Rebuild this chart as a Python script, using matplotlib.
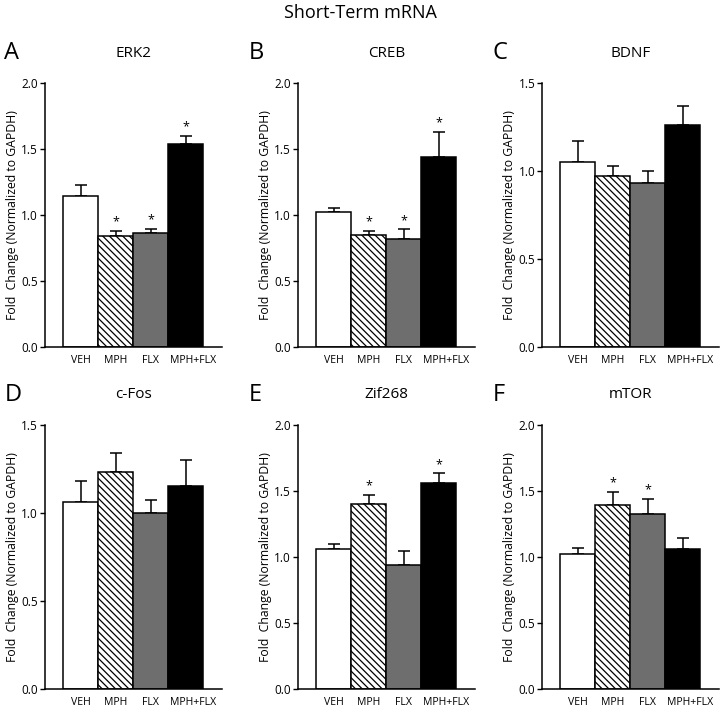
import matplotlib
matplotlib.use('Agg')
from matplotlib import pyplot as plt
from matplotlib import transforms

plt.rcParams['font.family'] = ['Open Sans', 'DejaVu Sans']
plt.rcParams['hatch.linewidth'] = 0.9

groups = ['VEH', 'MPH', 'FLX', 'MPH+FLX']
genes = ['ERK2', 'CREB', 'BDNF', 'c-Fos', 'Zif268', 'mTOR']
letters = ['A', 'B', 'C', 'D', 'E', 'F']

erk2_mean = [1.14, 0.84, 0.865, 1.54]
erk2_err = [0.09, 0.04, 0.03, 0.06]
creb_mean = [1.02, 0.85, 0.82, 1.44]
creb_err = [0.03, 0.03, 0.07, 0.19]
bdnf_mean = [1.05, 0.97, 0.93, 1.26]
bdnf_err = [0.12, 0.06, 0.07, 0.11]
cfos_mean = [1.06, 1.23, 1.00, 1.15]
cfos_err = [0.12, 0.11, 0.07, 0.15]
zif_mean = [1.06, 1.40, 0.94, 1.56]
zif_err = [0.04, 0.07, 0.10, 0.07]
mtor_mean = [1.02, 1.39, 1.32, 1.06]
mtor_err = [0.05, 0.10, 0.12, 0.08]

erk2_sig = [False, True, True, True]
creb_sig = [False, True, True, True]
bdnf_sig = [False, False, False, False]
cfos_sig = [False, False, False, False]
zif_sig = [False, True, False, True]
mtor_sig = [False, True, True, False]

y_max = [2.0, 2.0, 1.5, 1.5, 2.0, 2.0]

means = [erk2_mean, creb_mean, bdnf_mean, cfos_mean, zif_mean, mtor_mean]
errs = [erk2_err, creb_err, bdnf_err, cfos_err, zif_err, mtor_err]
sigs = [erk2_sig, creb_sig, bdnf_sig, cfos_sig, zif_sig, mtor_sig]

face = ['white', 'white', '#6e6e6e', 'black']
hatches = [None, '\\\\\\\\\\', None, None]

fig = plt.figure(figsize=(7.2, 7.07), dpi=100)
fig.text(0.5, 0.981, 'Short-Term mRNA', ha='center', va='center', fontsize=13)

lefts = [0.0625, 0.414, 0.753]
letter_x = [0.006, 0.346, 0.684]
bottoms = [0.509, 0.0255]
w = 0.246
h = 0.374

for i in range(6):
    row = i // 3
    col = i % 3
    ax = fig.add_axes([lefts[col], bottoms[row], w, h])
    x = range(len(groups))
    for j in x:
        ax.bar(j, means[i][j], width=1.0, color=face[j], edgecolor='black',
               linewidth=1.1, hatch=hatches[j], zorder=2)
        ax.errorbar(j, means[i][j], yerr=[[0], [errs[i][j]]], fmt='none',
                    ecolor='black', elinewidth=1.1, capsize=4.5, capthick=1.1, zorder=1)
        if sigs[i][j]:
            ax.text(j, means[i][j] + errs[i][j] + y_max[i] * 0.01, '*',
                    ha='center', va='bottom', fontsize=9)
    ax.set_xlim(-1.02, 4.04)
    ax.set_ylim(0, y_max[i])
    ax.set_yticks([k * 0.5 for k in range(int(y_max[i] / 0.5) + 1)])
    ax.set_yticklabels(['%.1f' % (k * 0.5) for k in range(int(y_max[i] / 0.5) + 1)])
    ax.set_xticks(list(x))
    ax.set_xticklabels(groups)
    ax.tick_params(axis='x', length=0, labelsize=7.6, pad=6)
    ax.tick_params(axis='y', length=3.5, width=1, labelsize=8.5, pad=1.5)
    # the last label sits a little right of its bar in the original
    lab = ax.get_xticklabels()[-1]
    lab.set_transform(lab.get_transform() + transforms.ScaledTranslation(0.07, 0, fig.dpi_scale_trans))
    ax.spines['top'].set_visible(False)
    ax.spines['right'].set_visible(False)
    ax.spines['left'].set_linewidth(1.1)
    ax.spines['bottom'].set_linewidth(1.1)
    ax.set_ylabel('Fold  Change (Normalized to GAPDH)', fontsize=8.8)
    ax.yaxis.set_label_coords(-0.145, 0.5)

    cx = lefts[col] + w / 2
    ty = bottoms[row] + h + 0.042
    fig.text(cx, ty, genes[i], ha='center', va='center', fontsize=11)
    fig.text(letter_x[col], ty, letters[i], ha='left', va='center', fontsize=17)

fig.savefig('out.png', dpi=100)
